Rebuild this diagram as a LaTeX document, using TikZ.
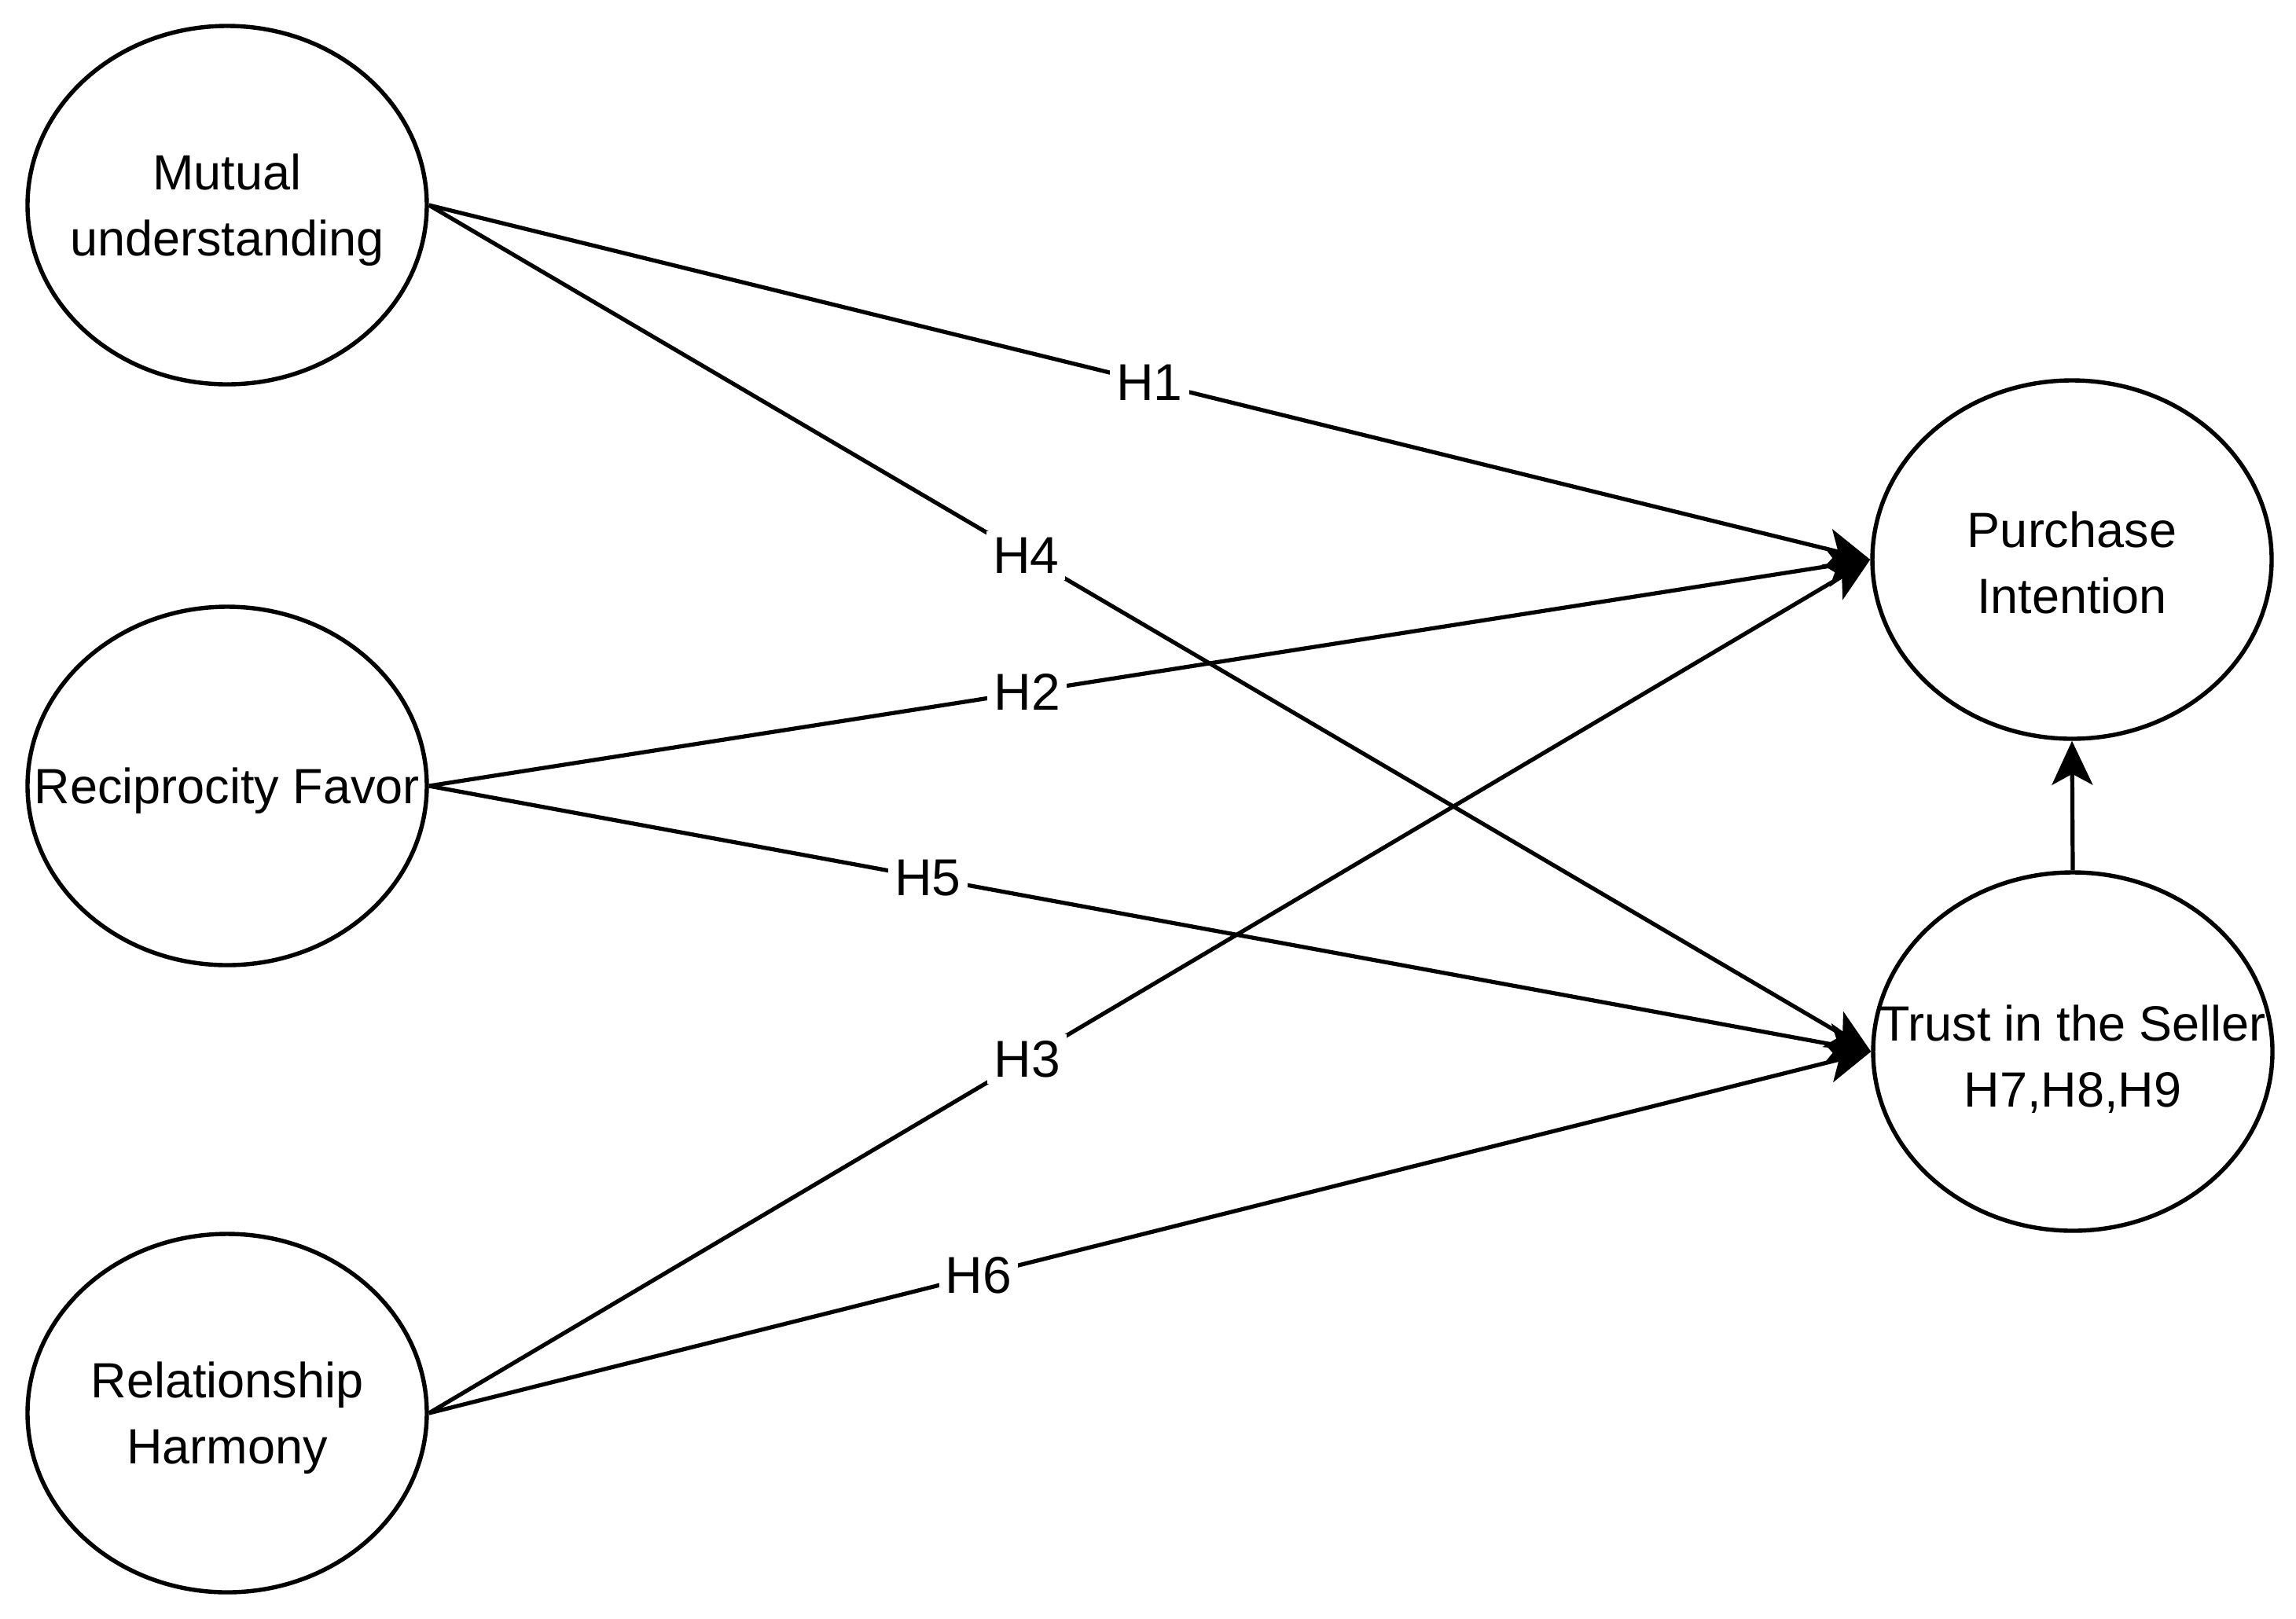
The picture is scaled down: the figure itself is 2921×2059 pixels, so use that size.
\documentclass[tikz,border=0pt]{standalone}
\usepackage{fontspec}
\setmainfont{Liberation Sans}
\usetikzlibrary{shapes.geometric,arrows.meta}
\tikzset{
  construct/.style={draw, line width=1.35pt, ellipse, minimum width=127pt, minimum height=114pt,
    inner sep=0pt, font=\fontsize{15.75pt}{21pt}\selectfont},
  link/.style={line width=1.3pt, -{Stealth[length=14pt,width=13pt,inset=3.5pt]}},
  hlab/.style={fill=white, inner sep=2pt, font=\fontsize{16.5pt}{18pt}\selectfont}
}
\newcommand\ctext[2][-1.5pt]{\makebox[0pt]{\raisebox{#1}[\height][\depth]{\begin{tabular}{@{}c@{}}#2\end{tabular}}}}
\begin{document}
\begin{tikzpicture}[x=0.25pt,y=-0.25pt]
\useasboundingbox (0,0) rectangle (2921,2059);
\node[construct] (mu) at (289,261) {\ctext{Mutual\\understanding}};
\node[construct] (rf) at (289,1000) {\ctext{Reciprocity Favor}};
\node[construct] (rh) at (289,1798) {\ctext{Relationship\\Harmony}};
\node[construct] (pi) at (2636,712) {\ctext[-2.5pt]{Purchase\\Intention}};
\node[construct] (ts) at (2637,1338) {\ctext[-3pt]{Trust in the Seller\\H7,H8,H9}};
\draw[link] (mu.east) -- node[hlab,pos=0.5]{H1} (pi.west);
\draw[link] (mu.east) -- node[hlab,pos=0.414]{H4} (ts.west);
\draw[link] (rf.east) -- node[hlab,pos=0.415]{H2} (pi.west);
\draw[link] (rf.east) -- node[hlab,pos=0.346]{H5} (ts.west);
\draw[link] (rh.east) -- node[hlab,pos=0.415]{H3} (pi.west);
\draw[link] (rh.east) -- node[hlab,pos=0.381]{H6} (ts.west);
\draw[link] (ts.north) -- (pi.south);
\end{tikzpicture}
\end{document}
